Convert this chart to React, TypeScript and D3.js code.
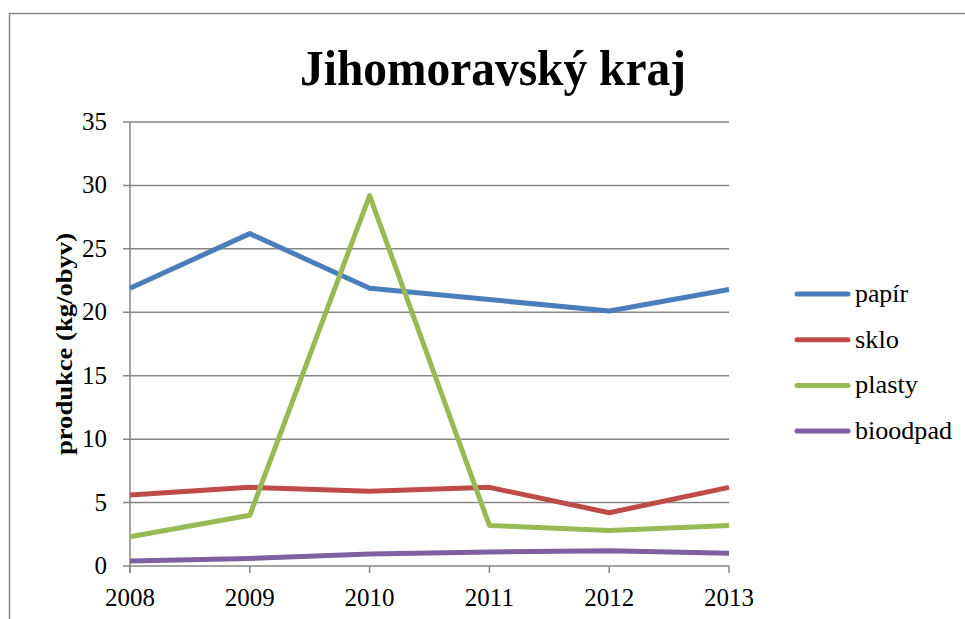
import React from 'react'
import * as d3 from 'd3'

const years = ['2008', '2009', '2010', '2011', '2012', '2013']
const papir = [21.9, 26.2, 21.9, 21.0, 20.1, 21.8]
const sklo = [5.6, 6.2, 5.9, 6.2, 4.2, 6.2]
const plasty = [2.3, 4.0, 29.2, 3.2, 2.8, 3.2]
const bioodpad = [0.4, 0.6, 0.95, 1.1, 1.2, 1.0]
const yTicks = [0, 5, 10, 15, 20, 25, 30, 35]

const series = [
  { name: 'papír', values: papir, color: '#4a7ebb', len: 53 },
  { name: 'sklo', values: sklo, color: '#be4b48', len: 44 },
  { name: 'plasty', values: plasty, color: '#98b954', len: 63 },
  { name: 'bioodpad', values: bioodpad, color: '#7d60a0', len: 97 },
]

export default function App() {
  const width = 965
  const height = 619
  const margin = { top: 122, left: 130, right: 729, bottom: 566 }

  const x = d3.scalePoint<string>().domain(years).range([margin.left, margin.right])
  const y = d3.scaleLinear().domain([0, 35]).range([margin.bottom, margin.top])

  const line = d3.line<number>()
    .x((_, i) => x(years[i]) as number)
    .y(d => y(d))

  const font = { fontFamily: '"Liberation Serif", "Times New Roman", serif' }

  return (
    <svg width={width} height={height} style={{ position: 'absolute', left: 0, top: 0 }}>
      <rect x={0} y={0} width={width} height={height} fill="#fff" />
      <rect x={9.5} y={13.5} width={970} height={620} fill="none" stroke="#868686" strokeWidth={1.5} />

      <text x={300} y={85} style={font} fontSize={51} fontWeight="bold" textLength={386} lengthAdjust="spacingAndGlyphs">Jihomoravský kraj</text>

      {/* grid + y axis */}
      {yTicks.map(t => (
        <g key={t}>
          <line x1={margin.left - 7} x2={margin.right} y1={y(t)} y2={y(t)} stroke="#868686" strokeWidth={1.5} />
          <text x={107} y={y(t) + 8} textAnchor="end" style={font} fontSize={25}>{t}</text>
        </g>
      ))}
      <line x1={margin.left} x2={margin.left} y1={margin.top} y2={margin.bottom + 7} stroke="#868686" strokeWidth={1.5} />

      {/* x axis ticks */}
      {years.map(yr => (
        <g key={yr}>
          <line x1={x(yr)} x2={x(yr)} y1={margin.bottom} y2={margin.bottom + 7} stroke="#868686" strokeWidth={1.5} />
          <text x={x(yr)} y={606} textAnchor="middle" style={font} fontSize={25}>{yr}</text>
        </g>
      ))}

      <text transform={`translate(72,344) rotate(-90)`} x={-111} style={font} fontSize={24} fontWeight="bold" textLength={222} lengthAdjust="spacingAndGlyphs">produkce (kg/obyv)</text>

      {series.map(s => (
        <path key={s.name} d={line(s.values) || ''} fill="none" stroke={s.color} strokeWidth={5} strokeLinejoin="round" />
      ))}

      {/* legend */}
      {series.map((s, i) => (
        <g key={s.name} transform={`translate(0,${294 + i * 45.7})`}>
          <line x1={797} x2={848} y1={0} y2={0} stroke={s.color} strokeWidth={5} strokeLinecap="round" />
          <text x={855} y={8} style={font} fontSize={25} textLength={s.len} lengthAdjust="spacingAndGlyphs">{s.name}</text>
        </g>
      ))}
    </svg>
  )
}
